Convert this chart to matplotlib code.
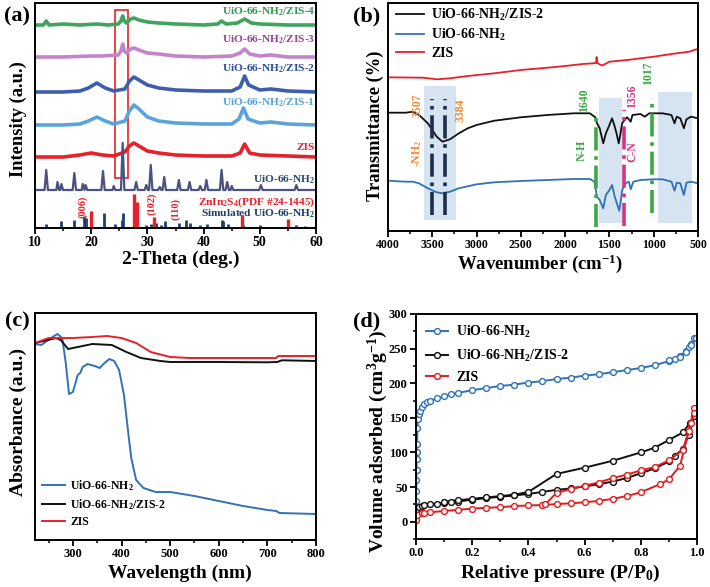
import matplotlib
matplotlib.use('Agg')
import matplotlib.pyplot as plt
from matplotlib.ticker import MultipleLocator
from matplotlib.patches import Rectangle

plt.rcParams['font.family'] = ['Liberation Serif', 'DejaVu Serif']
plt.rcParams['font.weight'] = 'bold'
plt.rcParams['axes.labelweight'] = 'bold'
plt.rcParams['mathtext.fontset'] = 'custom'
plt.rcParams['mathtext.rm'] = 'Liberation Serif:bold'
plt.rcParams['mathtext.it'] = 'Liberation Serif:bold'
plt.rcParams['mathtext.bf'] = 'Liberation Serif:bold'
plt.rcParams['mathtext.default'] = 'rm'

# ---------------- (a) XRD data ----------------
zis4_x = [10, 11.5, 12, 12.5, 15, 18, 21, 23, 24.8, 25.3, 25.6, 25.9, 26.3, 27.0, 27.6, 28.5, 30, 32, 35, 40, 42.5, 43.2, 44, 46, 47.3, 48.5, 50, 55, 60]
zis4_y = [203, 203, 207, 203, 204, 203, 204, 203, 204, 207, 212, 207, 205, 209, 210, 208, 206, 205, 204, 203, 204, 207, 204, 205, 209, 205, 204, 203, 203]
zis3_x = [10, 15, 20, 22, 24.8, 25.3, 25.6, 25.9, 26.3, 27, 27.6, 28.5, 30, 32, 35, 40, 45, 46.5, 47.3, 48.2, 50, 52, 55, 60]
zis3_y = [171, 171, 172, 172, 173, 177, 184, 177, 175, 179, 180, 178, 175, 174, 172, 171, 172, 175, 179, 174, 172, 173, 171, 171]
zis2_x = [10, 15, 18, 19.5, 21, 22.5, 24, 26, 26.8, 27.6, 28.5, 30, 32, 35, 40, 45, 46.5, 47.3, 48, 50, 52, 55, 60]
zis2_y = [136, 136, 137, 140, 145, 140, 137, 139, 147, 151, 148, 143, 140, 138, 137, 137, 141, 152, 143, 138, 139, 137, 136]
zis1_x = [10, 15, 18, 19.5, 21, 22.5, 24, 26, 26.8, 27.6, 28.5, 30, 32, 35, 40, 45, 46.3, 47.1, 47.9, 50, 52, 55, 60]
zis1_y = [103, 103, 104, 107, 111, 107, 104, 107, 117, 123, 119, 111, 107, 105, 104, 104, 109, 120, 109, 105, 106, 104, 103]
zis_x = [10, 15, 18, 20, 22, 24, 26, 26.8, 27.6, 28.5, 30, 32, 35, 40, 45, 46.5, 47.3, 48.2, 50, 55, 60]
zis_y = [71, 71, 73, 75, 73, 72, 76, 82, 85, 82, 77, 75, 73, 72, 72, 75, 84, 75, 73, 72, 71]
uio_x = [10, 11.7, 12.0, 12.3, 13.8, 14.0, 14.3, 14.5, 14.7, 15.0, 16.7, 17.0, 17.3, 18.3, 18.5, 18.8, 19.0, 19.3,
         21.8, 22.1, 22.4, 23.8, 24.0, 24.3, 25.3, 25.6, 25.9, 27.7, 28.0, 28.3, 29.5, 29.8, 30.1, 30.3, 30.6, 30.9,
         31.9, 32.2, 32.5, 32.7, 33.0, 33.3, 35.3, 35.6, 35.9, 37.2, 37.5, 37.8, 39.1, 39.4, 39.7, 40.2, 40.5, 40.8,
         42.9, 43.2, 43.5, 43.9, 44.2, 44.5, 44.8, 45.0, 45.3, 49.9, 50.2, 50.5, 56.2, 56.5, 56.8, 60]
uio_y = [38, 38, 58, 38, 38, 46, 38, 38, 44, 38, 38, 55, 38, 38, 44, 38, 43, 38,
         38, 57, 38, 38, 42, 38, 38, 85, 38, 38, 46, 38, 38, 43, 38, 38, 63, 38,
         38, 41, 38, 38, 51, 38, 38, 48, 38, 38, 46, 38, 38, 42, 38, 38, 48, 38,
         38, 58, 38, 38, 46, 38, 38, 42, 38, 38, 43, 38, 38, 43, 38, 38]
zin_sticks_x = [20.0, 27.6, 28.2, 31.2, 46.8, 55.0]
zin_sticks_h = [17, 34, 26, 11, 13, 9]
sim_sticks_x = [12.0, 14.7, 17.0, 18.7, 19.0, 22.2, 24.2, 25.4, 25.7, 29.8, 30.6, 31.6, 32.5, 33.1, 35.6,
                36.8, 37.5, 39.4, 40.6, 43.2, 43.5, 44.3, 47.0, 50.1, 56.5, 58.0]
sim_sticks_h = [4, 7, 8, 12, 10, 15, 4, 8, 15, 3, 4, 5, 3, 7, 5, 8, 5, 3, 4, 8, 7, 4, 3, 3, 3, 2]

# ---------------- (b) FTIR data ----------------
ftir_zis_x = [4000, 3800, 3600, 3450, 3300, 3100, 2800, 2500, 2200, 2000, 1800, 1680, 1650, 1645, 1635, 1620, 1580, 1500, 1300, 1000, 800, 600, 520, 500]
ftir_zis_y = [153.7, 153.5, 153.3, 151.7, 152.7, 155, 157.7, 161, 163.3, 165, 167, 167.7, 168, 174, 168, 167, 165.5, 169.3, 171, 174.3, 177, 179.3, 181.7, 181.7]
ftir_comp_x = [4000, 3800, 3720, 3650, 3550, 3450, 3384, 3300, 3200, 3100, 3000, 2800, 2500, 2200, 1900, 1720, 1660, 1640, 1610,
               1570, 1540, 1500, 1470, 1440, 1420, 1395, 1375, 1356, 1330, 1300, 1260, 1240, 1150, 1100, 1050, 900, 800, 765,
               740, 700, 660, 630, 580, 500]
ftir_comp_y = [118.3, 118.3, 119.3, 116, 107.7, 94.3, 89.3, 91.7, 97.7, 102.7, 106, 110.3, 113.7, 116, 117.7, 117.7, 113.7, 107.7, 102.7,
               87.7, 97.7, 106, 112.7, 104.3, 97.7, 87.7, 97.7, 107.7, 111, 113.7, 109.3, 116, 117, 114.3, 117.7, 117.7, 116, 107.7,
               114.3, 112.7, 102.7, 111.7, 114.3, 112.7]
ftir_uio_x = [4000, 3800, 3720, 3650, 3550, 3450, 3384, 3300, 3200, 3000, 2800, 2500, 2200, 1900, 1720, 1670, 1640, 1610, 1570,
              1540, 1500, 1470, 1440, 1410, 1390, 1370, 1356, 1320, 1280, 1260, 1230, 1150, 1000, 900, 800, 765, 740, 700, 660,
              630, 580, 500]
ftir_uio_y = [50.3, 49.3, 49.3, 47.7, 42.7, 38.7, 37.7, 39.3, 42.7, 46.7, 48.7, 50, 51, 52, 52, 49.3, 34.3, 31, 22.7,
              36, 41, 46, 34.3, 26, 20.3, 31, 41, 47.7, 49.3, 41.7, 49.3, 51, 51.7, 51.7, 49.3, 40.3, 48.3, 47.7, 36,
              48.3, 49.3, 47.7]
shade_x0 = [3593, 1613, 953]
shade_x1 = [3227, 1360, 568]
shade_y0 = [11, 8.3, 8.3]
shade_y1 = [145, 133.3, 139.3]
band_pos = [3507, 3355, 1654, 1338, 1015]
band_y0 = [16, 16, 4.3, 5, 17.7]
band_y1 = [131.7, 131.7, 119.3, 121, 132.7]

# ---------------- (c) UV-vis data ----------------
uv_zis_x = [222, 250, 270, 300, 340, 370, 400, 430, 460, 500, 540, 600, 700, 718, 722, 800]
uv_zis_y = [197, 202, 202, 202, 203, 204, 202, 197, 188, 183, 182, 182, 182, 182, 184, 184]
uv_comp_x = [222, 240, 265, 275, 290, 310, 340, 380, 410, 440, 480, 500, 600, 700, 720, 730, 800]
uv_comp_y = [197, 199, 202, 200, 191, 193, 196, 195, 188, 182, 179, 178, 178, 177.7, 178, 179.7, 179]
uv_uio_x = [222, 235, 255, 268, 278, 285, 292, 300, 310, 315, 320, 330, 345, 355, 365, 375, 385, 395, 405, 415,
            420, 430, 445, 470, 500, 550, 600, 650, 700, 718, 725, 800]
uv_uio_y = [196, 195, 202, 206, 202, 178, 146, 148, 165, 167, 173, 176, 174, 172, 177, 181, 179, 170, 145, 102,
            82, 60, 52, 48, 48, 44, 39, 34, 30, 29, 27, 26]

# ---------------- (d) N2 isotherm data ----------------
uio_ads_p = [0.0005, 0.001, 0.0015, 0.002, 0.0025, 0.003, 0.004, 0.005, 0.007, 0.01, 0.015, 0.02, 0.03, 0.04, 0.05,
             0.075, 0.1, 0.125, 0.15, 0.2, 0.25, 0.3, 0.35, 0.4, 0.45, 0.5, 0.55, 0.6, 0.65, 0.7, 0.75, 0.8, 0.85,
             0.9, 0.92, 0.94, 0.96, 0.97, 0.98, 0.99]
uio_ads_v = [30, 45, 60, 75, 90, 100, 112, 135, 148, 155, 160, 165, 170, 173, 175, 178, 181, 184, 186, 190, 193, 196,
             198, 201, 203, 206, 208, 211, 213, 216, 219, 222, 226, 232, 235, 240, 246, 252, 257, 265]
uio_des_p = [0.995, 0.98, 0.96, 0.94, 0.9]
uio_des_v = [266, 255, 245, 238, 234]
comp_ads_p = [0.0, 0.005, 0.01, 0.02, 0.03, 0.05, 0.075, 0.1, 0.125, 0.15, 0.2, 0.25, 0.3, 0.35, 0.4, 0.45, 0.5,
              0.55, 0.6, 0.65, 0.7, 0.75, 0.8, 0.85, 0.9, 0.92, 0.95, 0.97, 0.99]
comp_ads_v = [12, 18, 21, 22, 24, 25, 26, 27, 28, 29, 32, 34, 36, 38, 40, 43, 46, 48, 51, 54, 58, 63, 70, 77, 87,
              95, 105, 125, 152]
comp_des_p = [0.99, 0.975, 0.95, 0.9, 0.85, 0.8, 0.7, 0.6, 0.5, 0.4, 0.35, 0.3, 0.25, 0.2, 0.15, 0.1]
comp_des_v = [152, 143, 129, 118, 107, 100, 88, 78, 69, 43, 39, 37, 35, 33, 31, 29]
zis_ads_p = [0.0, 0.005, 0.02, 0.03, 0.05, 0.1, 0.15, 0.2, 0.25, 0.3, 0.35, 0.4, 0.45, 0.5, 0.55, 0.6, 0.65,
             0.7, 0.75, 0.8, 0.87, 0.9, 0.94, 0.97, 0.99]
zis_ads_v = [3, 10, 12, 13, 13.5, 15.5, 17, 19, 20, 21, 22.5, 23.5, 24, 25.5, 26.5, 28, 30, 33, 37, 42.5, 54.5,
             61, 81, 131, 164]
zis_des_p = [0.99, 0.98, 0.95, 0.9, 0.85, 0.8, 0.75, 0.7, 0.65, 0.6, 0.55, 0.5, 0.46]
zis_des_v = [157, 143, 104, 88.5, 79, 74, 68, 63, 56.6, 52, 47, 41.6, 25]

# ---------------- figure ----------------
W, H = 710, 587
fig = plt.figure(figsize=(W / 100, H / 100), dpi=100)


def box(l, t, r, b):
    return [l / W, 1 - b / H, (r - l) / W, (b - t) / H]


def ftext(x, y, s, **kw):
    fig.text(x / W, 1 - y / H, s, **kw)


def style(ax, tsize):
    for sp in ax.spines.values():
        sp.set_linewidth(1.4)
    ax.tick_params(which='major', direction='out', length=4, width=1.3, labelsize=tsize, pad=2)
    ax.tick_params(which='minor', direction='out', length=2.5, width=1.1)
    for lab in ax.get_xticklabels() + ax.get_yticklabels():
        lab.set_fontweight('bold')


axa = fig.add_axes(box(35, 3, 316, 228))
axb = fig.add_axes(box(388, 3, 698, 231))
axc = fig.add_axes(box(35, 313, 316, 540))
axd = fig.add_axes(box(416, 314, 697, 539))

# ---- (a)
lw_x = 2.6
axa.plot(zis4_x, zis4_y, color='#3ea45e', lw=lw_x)
axa.plot(zis3_x, zis3_y, color='#c584c9', lw=lw_x)
axa.plot(zis2_x, zis2_y, color='#3d5eac', lw=lw_x)
axa.plot(zis1_x, zis1_y, color='#5ba3dc', lw=lw_x)
axa.plot(zis_x, zis_y, color='#e8202a', lw=lw_x)
axa.plot(uio_x, uio_y, color='#4b5280', lw=1.6)
axa.vlines(sim_sticks_x, 0, sim_sticks_h, color='#1f3f6e', lw=2.0)
axa.vlines(zin_sticks_x, 0, zin_sticks_h, color='#e8202a', lw=2.4)
axa.add_patch(Rectangle((24.3, 50), 2.2, 168, fill=False, ec='#e8202a', lw=1.2))
lab_kw = dict(ha='right', va='center', fontsize=8.2, fontweight='bold')
axa.text(59.8, 216, 'UiO-66-NH$_2$/ZIS-4', color='#2f9a4f', **lab_kw)
axa.text(59.8, 188, 'UiO-66-NH$_2$/ZIS-3', color='#94449c', **lab_kw)
axa.text(59.8, 159, 'UiO-66-NH$_2$/ZIS-2', color='#2c4c9c', **lab_kw)
axa.text(59.8, 125, 'UiO-66-NH$_2$/ZIS-1', color='#56a0da', **lab_kw)
axa.text(59.8, 81, 'ZIS', color='#e8202a', **lab_kw)
axa.text(59.8, 48, 'UiO-66-NH$_2$', color='#2d4868', **lab_kw)
axa.text(59.8, 26, 'ZnIn$_2$S$_4$(PDF #24-1445)', color='#e8202a', **lab_kw)
axa.text(59.8, 14, 'Simulated UiO-66-NH$_2$', color='#1f3f6e', **lab_kw)
hkl_kw = dict(ha='center', va='center', rotation=90, fontsize=7.5, color='#e8202a', fontweight='bold')
axa.text(18.5, 21, '(006)', **hkl_kw)
axa.text(30.8, 24, '(102)', **hkl_kw)
axa.text(35.0, 19, '(110)', **hkl_kw)
axa.set_xlim(10, 60)
axa.set_ylim(0, 225)
axa.xaxis.set_major_locator(MultipleLocator(10))
axa.xaxis.set_minor_locator(MultipleLocator(5))
axa.set_yticks([])
style(axa, 10)

# ---- (b)
for x0, x1, y0, y1 in zip(shade_x0, shade_x1, shade_y0, shade_y1):
    axb.add_patch(Rectangle((x1, y0), x0 - x1, y1 - y0, color='#d6e3f0', lw=0, zorder=0))
axb.plot(ftir_comp_x, ftir_comp_y, color='#111111', lw=1.3, label='UiO-66-NH$_2$/ZIS-2')
axb.plot(ftir_uio_x, ftir_uio_y, color='#2f73b5', lw=1.3, label='UiO-66-NH$_2$')
axb.plot(ftir_zis_x, ftir_zis_y, color='#e8202a', lw=1.3, label='ZIS')
band_cols = ['#1c2e4a', '#1c2e4a', '#3aa845', '#d63384', '#3aa845']
for xp, y0, y1, c in zip(band_pos, band_y0, band_y1, band_cols):
    axb.plot([xp, xp], [y0, y1], color=c, lw=2.6, ls='-.', zorder=3)
ann_kw = dict(ha='center', va='center', rotation=90, fontsize=8.5, fontweight='bold')
axb.text(3661, 126, '3507', color='#f08a3c', **ann_kw)
axb.text(3177, 121, '3384', color='#f08a3c', **ann_kw)
axb.text(3668, 78, '-NH$_2$', color='#f08a3c', **ann_kw)
axb.text(1790, 131, '1640', color='#3aa845', **ann_kw)
axb.text(1812, 81, 'N-H', color='#3aa845', **ann_kw)
axb.text(1239, 135, '1356', color='#d63384', **ann_kw)
axb.text(1246, 79, 'C-N', color='#d63384', **ann_kw)
axb.text(1058, 158, '1017', color='#3aa845', **ann_kw)
axb.set_xlim(4000, 500)
axb.set_ylim(0, 228)
axb.xaxis.set_major_locator(MultipleLocator(500))
axb.xaxis.set_minor_locator(MultipleLocator(250))
axb.set_yticks([])
axb.legend(loc='upper left', bbox_to_anchor=(0.0, 1.02), frameon=False,
           handlelength=2.0, handletextpad=0.5, labelspacing=0.3, borderaxespad=0.2,
           prop={'weight': 'bold', 'size': 10})
style(axb, 8.5)

# ---- (c)
axc.plot(uv_uio_x, uv_uio_y, color='#2f73b5', lw=1.4, label='UiO-66-NH$_2$')
axc.plot(uv_comp_x, uv_comp_y, color='#111111', lw=1.4, label='UiO-66-NH$_2$/ZIS-2')
axc.plot(uv_zis_x, uv_zis_y, color='#e8202a', lw=1.4, label='ZIS')
axc.set_xlim(222, 800)
axc.set_ylim(0, 227)
axc.xaxis.set_major_locator(MultipleLocator(100))
axc.xaxis.set_minor_locator(MultipleLocator(50))
axc.set_yticks([])
axc.legend(loc='lower left', bbox_to_anchor=(0.0, 0.02), frameon=False,
           handlelength=1.9, handletextpad=0.5, labelspacing=0.35, borderaxespad=0.2,
           prop={'weight': 'bold', 'size': 8.5})
style(axc, 9)

# ---- (d)
mk = dict(marker='o', ms=4.2, mfc='white', mew=1.0, lw=1.4)
axd.plot(uio_ads_p + uio_des_p, uio_ads_v + uio_des_v, color='#2f73b5', label='UiO-66-NH$_2$', **mk)
axd.plot(comp_ads_p + comp_des_p, comp_ads_v + comp_des_v, color='#111111', label='UiO-66-NH$_2$/ZIS-2', **mk)
axd.plot(zis_ads_p + zis_des_p, zis_ads_v + zis_des_v, color='#e41a1c', label='ZIS', **mk)
axd.set_xlim(0, 1.0)
axd.set_ylim(-25, 300)
axd.xaxis.set_major_locator(MultipleLocator(0.2))
axd.xaxis.set_minor_locator(MultipleLocator(0.1))
axd.yaxis.set_major_locator(MultipleLocator(50))
axd.yaxis.set_minor_locator(MultipleLocator(25))
axd.xaxis.set_major_formatter(plt.FormatStrFormatter('%.1f'))
axd.legend(loc='upper left', bbox_to_anchor=(0.0, 1.0), frameon=False,
           handlelength=1.6, handletextpad=0.6, labelspacing=0.55, borderaxespad=0.3,
           prop={'weight': 'bold', 'size': 10})
style(axd, 9)

# ---- axis labels and panel letters
xl = dict(ha='center', va='center', fontsize=14, fontweight='bold')
ftext(181, 259, '2-Theta (deg.)', **xl)
ftext(540, 264, 'Wavenumber (cm$^{-1}$)', ha='center', va='center', fontsize=13.5, fontweight='bold')
ftext(180, 573, 'Wavelength (nm)', **xl)
ftext(560, 573, 'Relative pressure (P/P$_0$)', **xl)
yl = dict(ha='center', va='center', rotation=90, fontweight='bold')
ftext(18, 119, 'Intensity (a.u.)', fontsize=13.3, **yl)
ftext(375, 126, 'Transmittance (%)', fontsize=13.3, **yl)
ftext(18, 422, 'Absorbance (a.u.)', fontsize=14, **yl)
ftext(378, 441, 'Volume adsorbed (cm$^3$g$^{-1}$)', fontsize=14, **yl)
pl = dict(ha='center', va='center', fontsize=16, fontweight='bold')
ftext(17, 16, '(a)', **pl)
ftext(367, 16, '(b)', **pl)
ftext(17, 321, '(c)', **pl)
ftext(367, 321, '(d)', **pl)

fig.savefig('out.png', dpi=100)
